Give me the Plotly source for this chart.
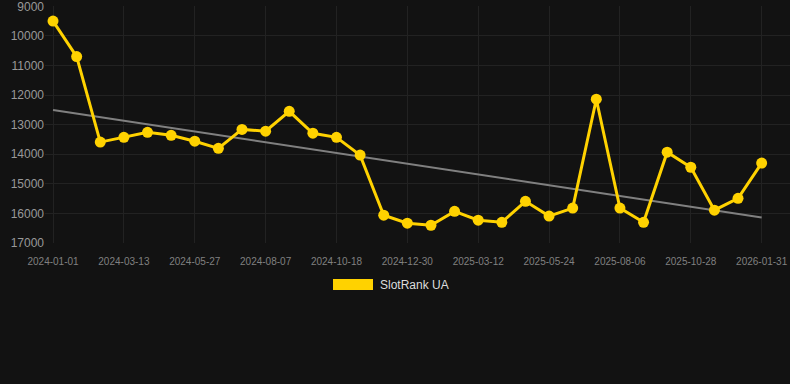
import numpy as np
import plotly.graph_objects as go

tick_labels = ["2024-01-01", "2024-03-13", "2024-05-27", "2024-08-07", "2024-10-18",
               "2024-12-30", "2025-03-12", "2025-05-24", "2025-08-06", "2025-10-28", "2026-01-31"]
rank_values = [9500, 10700, 13590, 13430, 13260, 13360, 13560, 13800, 13160, 13220,
               12550, 13290, 13430, 14030, 16060, 16330, 16400, 15930, 16230, 16300,
               15590, 16090, 15820, 12140, 15820, 16300, 13930, 14440, 15890, 15490, 14300]
y_ticks = [9000, 10000, 11000, 12000, 13000, 14000, 15000, 16000, 17000]
series_name = "SlotRank UA"

x_idx = np.arange(len(rank_values))
tick_pos = x_idx[::3]

slope, intercept = np.polyfit(x_idx, rank_values, 1)
trend = slope * x_idx + intercept

YELLOW = "#FFD200"
BG = "#121212"

fig = go.Figure()
fig.add_trace(go.Scatter(x=x_idx, y=trend, mode="lines",
                         line=dict(color="#808080", width=2), showlegend=False, hoverinfo="skip"))
fig.add_trace(go.Scatter(x=x_idx, y=rank_values, mode="lines+markers", name=series_name,
                         line=dict(color=YELLOW, width=3),
                         marker=dict(color=YELLOW, size=11), showlegend=False))

ML, MR, MT, MB = 45, 0, 6, 141
W, H = 790, 384
pw, ph = W - ML - MR, H - MT - MB

def px(xp):
    return (xp - ML) / pw

def py(yp):
    return (H - MB - yp) / ph

fig.add_shape(type="rect", xref="paper", yref="paper",
              x0=px(333), x1=px(373), y0=py(290), y1=py(279),
              fillcolor=YELLOW, line=dict(width=0))
fig.add_annotation(xref="paper", yref="paper", x=px(378), y=py(285),
                   text=series_name, showarrow=False, xanchor="left", yanchor="middle",
                   font=dict(size=12, color="#dddddd", family="Liberation Sans, Arial"))

fig.update_layout(
    width=W, height=H,
    margin=dict(l=ML, r=MR, t=MT, b=MB),
    paper_bgcolor=BG, plot_bgcolor=BG,
    font=dict(family="Liberation Sans, Arial", color="#999999"),
    xaxis=dict(range=[-0.34, 31.2], tickmode="array", tickvals=tick_pos, ticktext=tick_labels,
               showgrid=True, gridcolor="#222222", gridwidth=1, zeroline=False,
               tickfont=dict(size=10, color="#808080"), ticks="outside", ticklen=9,
               tickcolor=BG, showline=False, ticklabeloverflow="allow"),
    yaxis=dict(range=[17000, 8990], tickmode="array", tickvals=y_ticks,
               ticktext=[str(v) for v in y_ticks],
               showgrid=True, gridcolor="#222222", gridwidth=1, zeroline=False,
               tickfont=dict(size=12, color="#999999"), ticks="", ticklen=0,
               showline=False, ticklabeloverflow="allow"),
)

post = ("document.body.style.margin='0';document.body.style.padding='0';"
        "document.body.style.background='#121212';"
        "document.documentElement.style.background='#121212';")

fig.write_html("out.html", post_script=post, config={"displayModeBar": False})
